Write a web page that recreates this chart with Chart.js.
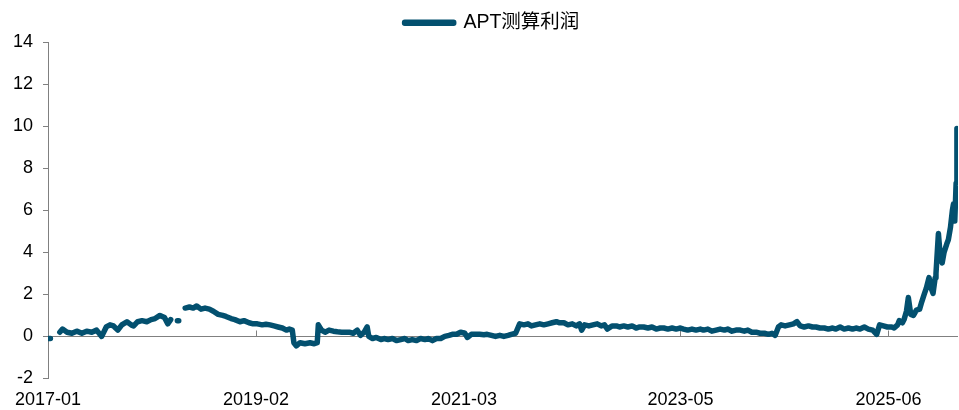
<!DOCTYPE html>
<html>
<head>
<meta charset="utf-8">
<script src="https://cdn.jsdelivr.net/npm/chart.js@4/dist/chart.umd.min.js"></script>
<style>
  body { margin: 0; background: #fff; }
</style>
</head>
<body>
<canvas id="chart" width="959" height="410"></canvas>
<script>
const SERIES_NAME = 'APT测算利润';
const LINE_COLOR = '#03506f';
const AXIS_COLOR = '#808080';

// 日期（约半月一个点，末段加密），null 表示断档
const dates = [
  '2017-01-03','2017-01-10','2017-02-01','2017-02-14','2017-02-24','2017-03-10','2017-03-28','2017-04-15','2017-05-03','2017-05-21','2017-06-09','2017-06-27','2017-07-15','2017-08-01','2017-08-15','2017-08-28','2017-09-13','2017-09-28','2017-10-16','2017-11-01','2017-11-10','2017-11-25','2017-12-10','2017-12-28',
  '2018-01-13','2018-01-28','2018-02-15','2018-03-01','2018-03-13','2018-03-24','2018-04-01','2018-04-18','2018-04-23','2018-05-01','2018-05-16','2018-06-01','2018-06-15','2018-06-28','2018-07-13','2018-07-28','2018-08-13','2018-08-28','2018-09-15','2018-10-01','2018-10-13','2018-11-01','2018-11-15','2018-12-03','2018-12-18',
  '2019-01-06','2019-01-21','2019-02-06','2019-02-24','2019-03-07','2019-03-22','2019-04-06','2019-04-21','2019-05-06','2019-05-21','2019-06-01','2019-06-12','2019-06-18','2019-06-27','2019-07-10','2019-07-28','2019-08-16','2019-09-01','2019-09-12','2019-09-16','2019-09-28','2019-10-10','2019-10-25','2019-11-10','2019-11-25','2019-12-10','2019-12-25',
  '2020-01-07','2020-01-22','2020-02-06','2020-02-18','2020-03-01','2020-03-12','2020-03-18','2020-04-01','2020-04-15','2020-05-01','2020-05-13','2020-05-28','2020-06-13','2020-06-28','2020-07-13','2020-07-28','2020-08-10','2020-08-25','2020-09-10','2020-09-25','2020-10-10','2020-10-22','2020-11-07','2020-11-22','2020-12-07','2020-12-22',
  '2021-01-07','2021-01-19','2021-02-04','2021-02-19','2021-03-04','2021-03-13','2021-03-28','2021-04-13','2021-04-28','2021-05-13','2021-05-25','2021-06-10','2021-06-25','2021-07-10','2021-07-25','2021-08-10','2021-08-22','2021-09-07','2021-09-22','2021-10-07','2021-10-22','2021-11-04','2021-11-19','2021-12-04','2021-12-19',
  '2022-01-04','2022-01-19','2022-02-04','2022-02-16','2022-03-01','2022-03-16','2022-04-01','2022-04-16','2022-04-28','2022-05-05','2022-05-16','2022-06-01','2022-06-16','2022-07-01','2022-07-16','2022-07-28','2022-08-08','2022-08-25','2022-09-10','2022-09-22','2022-10-07','2022-10-22','2022-11-07','2022-11-22','2022-12-04','2022-12-19',
  '2023-01-04','2023-01-19','2023-02-04','2023-02-19','2023-03-01','2023-03-16','2023-04-01','2023-04-16','2023-05-01','2023-05-13','2023-05-28','2023-06-13','2023-06-28','2023-07-13','2023-07-25','2023-08-10','2023-08-25','2023-09-10','2023-09-25','2023-10-10','2023-10-22','2023-11-07','2023-11-22','2023-12-07','2023-12-22',
  '2024-01-04','2024-01-19','2024-02-04','2024-02-19','2024-03-04','2024-03-19','2024-04-01','2024-04-13','2024-04-25','2024-05-04','2024-05-19','2024-06-04','2024-06-19','2024-07-01','2024-07-13','2024-07-28','2024-08-13','2024-08-28','2024-09-10','2024-09-25','2024-10-10','2024-10-25','2024-11-10','2024-11-22','2024-12-07','2024-12-22',
  '2025-01-07','2025-01-22','2025-02-04','2025-02-19','2025-03-04','2025-03-19','2025-04-04','2025-04-19','2025-04-30','2025-05-13','2025-05-28','2025-06-13','2025-06-22','2025-07-04','2025-07-10','2025-07-22','2025-07-28','2025-08-06','2025-08-13','2025-08-22','2025-09-01','2025-09-12','2025-09-24','2025-10-01','2025-10-10','2025-10-18','2025-10-28','2025-11-05','2025-11-12','2025-11-20','2025-11-23','2025-12-01','2025-12-08','2025-12-15','2025-12-22',
  '2026-01-01','2026-01-07','2026-01-15','2026-01-22','2026-01-26','2026-01-29','2026-01-31','2026-02-05','2026-02-08','2026-02-10','2026-02-12'
];

const profit = [
  -0.1, -0.1, null, 0.2, 0.35, 0.2, 0.15, 0.25, 0.15, 0.25, 0.2, 0.3, 0.0, 0.45, 0.55, 0.5, 0.3, 0.55, 0.7, 0.55, 0.5, 0.7, 0.75, 0.7,
  0.8, 0.85, 1.0, 0.9, 0.6, 0.8, null, 0.75, 0.75, null, 1.35, 1.4, 1.35, 1.45, 1.3, 1.35, 1.3, 1.2, 1.05, 1.0, 0.95, 0.85, 0.8, 0.7, 0.75,
  0.65, 0.6, 0.6, 0.55, 0.58, 0.55, 0.5, 0.45, 0.4, 0.3, 0.35, 0.3, -0.3, -0.45, -0.3, -0.35, -0.3, -0.35, -0.3, 0.55, 0.3, 0.2, 0.3, 0.25, 0.22, 0.2, 0.2,
  0.2, 0.15, 0.3, 0.05, 0.2, 0.45, 0.0, -0.1, -0.05, -0.15, -0.1, -0.15, -0.1, -0.2, -0.15, -0.1, -0.2, -0.15, -0.2, -0.1, -0.15, -0.1, -0.2, -0.1, -0.1, 0.0,
  0.05, 0.1, 0.1, 0.2, 0.15, -0.05, 0.1, 0.1, 0.1, 0.08, 0.1, 0.05, 0.0, 0.05, 0.0, 0.05, 0.1, 0.15, 0.6, 0.55, 0.6, 0.5, 0.55, 0.6, 0.55,
  0.6, 0.65, 0.7, 0.65, 0.65, 0.55, 0.6, 0.5, 0.6, 0.3, 0.55, 0.5, 0.55, 0.6, 0.5, 0.55, 0.35, 0.5, 0.5, 0.45, 0.5, 0.45, 0.5, 0.4, 0.45, 0.45,
  0.4, 0.45, 0.35, 0.4, 0.4, 0.35, 0.4, 0.35, 0.4, 0.35, 0.3, 0.35, 0.3, 0.35, 0.3, 0.35, 0.25, 0.3, 0.35, 0.3, 0.35, 0.25, 0.3, 0.3, 0.25,
  0.3, 0.2, 0.2, 0.15, 0.15, 0.1, 0.15, 0.05, 0.45, 0.55, 0.5, 0.55, 0.6, 0.7, 0.5, 0.45, 0.5, 0.45, 0.45, 0.4, 0.4, 0.35, 0.4, 0.35, 0.45, 0.35,
  0.4, 0.35, 0.4, 0.35, 0.45, 0.35, 0.3, 0.1, 0.55, 0.5, 0.45, 0.45, 0.4, 0.55, 0.75, 0.65, 0.8, 1.2, 1.85, 1.05, 1.0, 1.25, 1.3, 1.65, 2.0, 2.3, 2.8, 2.3, 2.05, 2.8, 3.0, 4.9, 3.8, 3.5, 4.0,
  4.4, 4.6, 5.2, 6.0, 6.3, 6.2, 5.5, 7.3, 9.9, 7.4, 8.2
];

const tickLabels = ['2017-01', '2019-02', '2021-03', '2023-05', '2025-06'];
const yTicks = [-2, 0, 2, 4, 6, 8, 10, 12, 14];

// 日期 -> 自 2017-01 起的月份序号
function monthIndex(s) {
  const [y, m, d] = s.split('-').map(Number);
  return (y - 2017) * 12 + (m - 1) + ((d || 1) - 1) / 31;
}

const points = dates.map((d, i) => ({ x: monthIndex(d), y: profit[i] }));
const tickPos = tickLabels.map(t => monthIndex(t));

// x 轴刻度线画在 0 轴上，向上
const zeroTicks = {
  id: 'zeroTicks',
  beforeDatasetsDraw(chart) {
    const { ctx, scales: { x, y } } = chart;
    const y0 = Math.round(y.getPixelForValue(0)) + 0.5;
    ctx.save();
    ctx.strokeStyle = AXIS_COLOR;
    ctx.lineWidth = 1;
    ctx.beginPath();
    for (const v of tickPos) {
      const px = Math.round(x.getPixelForValue(v)) + 0.5;
      ctx.moveTo(px, y0);
      ctx.lineTo(px, y0 - 6);
    }
    ctx.stroke();
    ctx.restore();
  }
};

// 图例略向右，居中在绘图区附近
const legendShift = {
  id: 'legendShift',
  afterLayout(chart) {
    chart.legend.left = 26;
  }
};

Chart.defaults.font.family = '"Liberation Sans", Arial, "Noto Sans CJK SC", sans-serif';
Chart.defaults.color = '#000';

new Chart(document.getElementById('chart'), {
  type: 'line',
  data: {
    datasets: [{
      label: SERIES_NAME,
      data: points,
      borderColor: LINE_COLOR,
      backgroundColor: LINE_COLOR,
      borderWidth: 5.5,
      borderCapStyle: 'round',
      borderJoinStyle: 'round',
      pointRadius: 0,
      spanGaps: false,
      tension: 0,
    }]
  },
  options: {
    responsive: false,
    animation: false,
    layout: { padding: { left: 0, right: 1, top: 0, bottom: -12 } },
    plugins: {
      tooltip: { enabled: false },
      legend: {
        position: 'top',
        labels: {
          boxWidth: 49,
          boxHeight: 1,
          padding: 13,
          font: { size: 19.5 },
          color: '#000',
        }
      }
    },
    scales: {
      x: {
        type: 'linear',
        min: 0,
        max: monthIndex(dates[dates.length - 1]),
        border: { display: false },
        grid: { display: false, drawTicks: false },
        afterBuildTicks(axis) {
          axis.ticks = tickPos.map(v => ({ value: v }));
        },
        ticks: {
          autoSkip: false,
          maxRotation: 0,
          padding: 11,
          font: { size: 18 },
          callback: (v) => tickLabels[tickPos.indexOf(v)],
        }
      },
      y: {
        min: -2,
        max: 14,
        afterBuildTicks(axis) {
          axis.ticks = yTicks.map(v => ({ value: v }));
        },
        afterFit(axis) { axis.width = 48; },
        border: { display: true, color: AXIS_COLOR, width: 1 },
        grid: {
          color: c => (c.tick && c.tick.value === 0 ? AXIS_COLOR : 'rgba(0,0,0,0)'),
          tickColor: AXIS_COLOR,
          tickLength: 5,
        },
        ticks: {
          padding: 10,
          font: { size: 18 },
        }
      }
    }
  },
  plugins: [zeroTicks, legendShift]
});
</script>
</body>
</html>
